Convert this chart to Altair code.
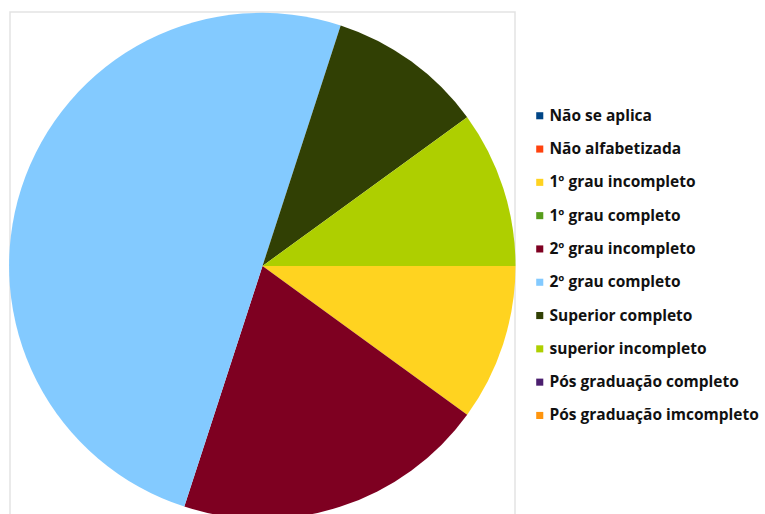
import altair as alt
import pandas as pd
import math

categories = [
    "Não se aplica",
    "Não alfabetizada",
    "1º grau incompleto",
    "1º grau completo",
    "2º grau incompleto",
    "2º grau completo",
    "Superior completo",
    "superior incompleto",
    "Pós graduação completo",
    "Pós graduação imcompleto",
]
values = [0, 0, 1, 0, 2, 5, 1, 1, 0, 0]
colors = ["#004586", "#ff420e", "#ffd320", "#579d1c", "#7e0021",
          "#83caff", "#314004", "#aecf00", "#4b1f6f", "#ff950e"]

df = pd.DataFrame({"cat": categories, "val": values, "ord": list(range(len(categories)))})

W, H = 505, 508

frame = alt.Chart(pd.DataFrame({"a": [0]})).mark_rect(
    fill=None, stroke="#e3e3e3", strokeWidth=1.5
).encode(x=alt.value(0), x2=alt.value(W), y=alt.value(0), y2=alt.value(H))

pie = alt.Chart(df).mark_arc(outerRadius=253, stroke=None).encode(
    theta=alt.Theta("val:Q", stack=True,
                    scale=alt.Scale(range=[math.pi / 2, math.pi / 2 + 2 * math.pi])),
    color=alt.Color("cat:N",
                    scale=alt.Scale(domain=categories, range=colors),
                    sort=categories,
                    legend=alt.Legend(title=None, orient="none", legendX=522, legendY=96,
                                      symbolType="square", symbolSize=50,
                                      symbolStrokeWidth=0,
                                      labelFont="Open Sans", labelFontSize=15.5,
                                      labelFontWeight="bold", labelColor="#111",
                                      rowPadding=16.3, labelOffset=2, labelLimit=300)),
    order=alt.Order("ord:Q"),
)

chart = alt.layer(frame, pie).properties(
    width=W, height=H,
    padding={"left": 10, "top": 12, "right": 250, "bottom": 0},
    autosize=alt.AutoSizeParams(type="none"),
).configure_view(stroke=None)

chart.save("out.html", embed_options={"renderer": "svg", "actions": False})
